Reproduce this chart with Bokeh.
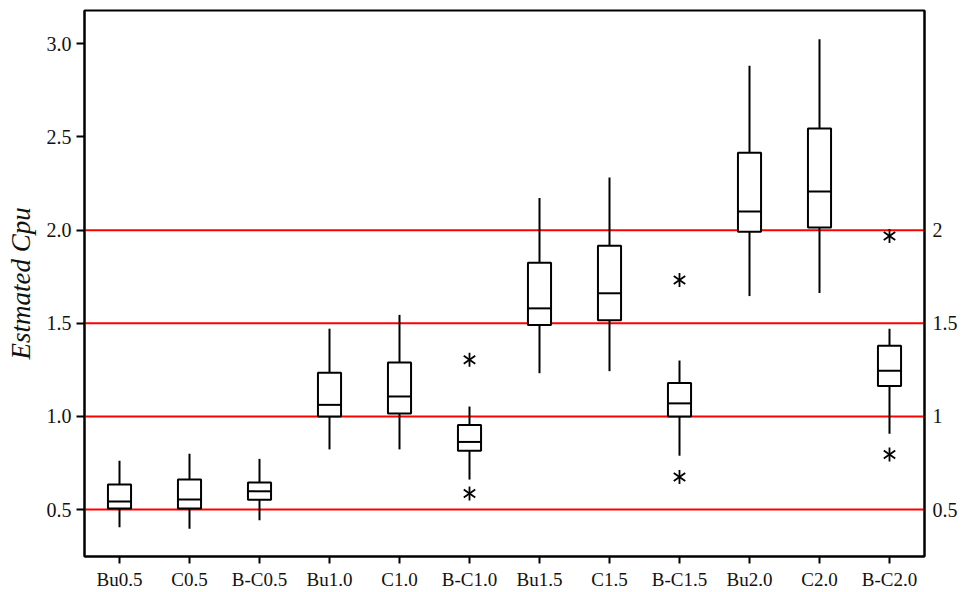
import math
from bokeh.plotting import figure
from bokeh.models import (FactorRange, Range1d, Span, LinearAxis, FixedTicker,
                          CustomJSTickFormatter, ColumnDataSource)
from bokeh.transform import dodge
from bokeh.embed import file_html
from bokeh.resources import INLINE

categories = ["Bu0.5", "C0.5", "B-C0.5", "Bu1.0", "C1.0", "B-C1.0",
              "Bu1.5", "C1.5", "B-C1.5", "Bu2.0", "C2.0", "B-C2.0"]
whisker_low = [0.405, 0.397, 0.443, 0.823, 0.823, 0.661, 1.232, 1.243, 0.789, 1.646, 1.663, 0.907]
q1 = [0.505, 0.505, 0.552, 1.000, 1.016, 0.816, 1.491, 1.516, 1.000, 1.991, 2.014, 1.163]
median = [0.543, 0.554, 0.598, 1.062, 1.107, 0.863, 1.580, 1.661, 1.070, 2.100, 2.207, 1.245]
q3 = [0.634, 0.661, 0.645, 1.234, 1.289, 0.954, 1.825, 1.916, 1.180, 2.416, 2.545, 1.379]
whisker_high = [0.762, 0.800, 0.772, 1.471, 1.545, 1.053, 2.173, 2.282, 1.300, 2.882, 3.025, 1.471]
outlier_cat = ["B-C1.0", "B-C1.0", "B-C1.5", "B-C1.5", "B-C2.0", "B-C2.0"]
outlier_val = [1.304, 0.586, 1.732, 0.675, 1.968, 0.796]
left_ticks = [0.5, 1.0, 1.5, 2.0, 2.5, 3.0]
ref_lines = [0.5, 1.0, 1.5, 2.0]
y_label = "Estmated Cpu"

FONT = "Liberation Serif"
TXT = "#111111"
BOX_W = 0.33
LW = 2

src = ColumnDataSource(dict(cat=categories, lo=whisker_low, q1=q1, med=median,
                            q3=q3, hi=whisker_high))
osrc = ColumnDataSource(dict(cat=outlier_cat, val=outlier_val))

p = figure(width=965, height=592, x_range=FactorRange(*categories),
           y_range=Range1d(0.248, 3.179), output_backend="svg",
           toolbar_location=None, min_border_left=84, min_border_right=41,
           min_border_top=10, min_border_bottom=35)
p.background_fill_color = "white"
p.border_fill_color = "white"
p.outline_line_color = "black"
p.outline_line_width = LW
p.xgrid.visible = False
p.ygrid.visible = False

for v in ref_lines:
    p.add_layout(Span(location=v, dimension="width", line_color="red",
                      line_width=2, level="underlay"))

p.segment(x0="cat", y0="q3", x1="cat", y1="hi", source=src, line_color="black", line_width=LW)
p.segment(x0="cat", y0="lo", x1="cat", y1="q1", source=src, line_color="black", line_width=LW)
p.vbar(x="cat", width=BOX_W, bottom="q1", top="q3", source=src,
       fill_color="white", line_color="black", line_width=LW)
p.segment(x0=dodge("cat", -BOX_W / 2, range=p.x_range), y0="med",
          x1=dodge("cat", BOX_W / 2, range=p.x_range), y1="med",
          source=src, line_color="black", line_width=LW)
for ang in (90, 35, -35):
    p.scatter(x="cat", y="val", source=osrc, marker="dash", size=14,
              angle=math.radians(ang), line_color="black", line_width=1.8)

ax = p.yaxis[0]
ax.ticker = FixedTicker(ticks=left_ticks)
ax.formatter = CustomJSTickFormatter(code="return tick.toFixed(1);")
ax.axis_label = y_label
ax.axis_label_text_font = FONT
ax.axis_label_text_font_style = "italic"
ax.axis_label_text_font_size = "27px"
ax.axis_label_text_color = TXT
ax.axis_label_standoff = 8
ax.major_label_text_font = FONT
ax.major_label_text_font_size = "20px"
ax.major_label_text_color = TXT
ax.major_tick_out = 8
ax.major_tick_in = 0
ax.minor_tick_line_color = None
ax.axis_line_width = LW
ax.major_tick_line_width = LW

xa = p.xaxis[0]
xa.major_label_text_font = FONT
xa.major_label_text_font_size = "19px"
xa.major_label_text_color = TXT
xa.major_tick_out = 7
xa.major_tick_in = 0
xa.axis_line_width = LW
xa.major_tick_line_width = LW
xa.major_label_standoff = 5

ra = LinearAxis(ticker=FixedTicker(ticks=ref_lines),
                formatter=CustomJSTickFormatter(code="return tick.toString();"))
ra.major_tick_out = 0
ra.major_tick_in = 0
ra.minor_tick_line_color = None
ra.major_label_text_font = FONT
ra.major_label_text_font_size = "20px"
ra.major_label_text_color = TXT
ra.major_label_standoff = 8
ra.axis_line_width = LW
p.add_layout(ra, "right")

open("out.html", "w").write(file_html(p, INLINE))
